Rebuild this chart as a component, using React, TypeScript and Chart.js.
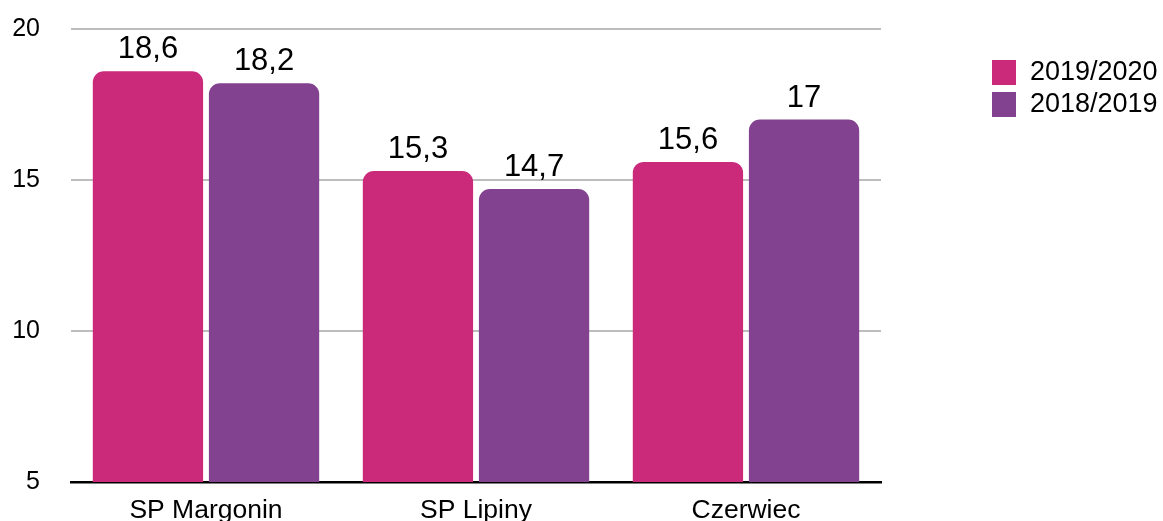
import { useEffect, useRef } from "react";
import { Chart, registerables } from "chart.js";

Chart.register(...registerables);

const categories = ["SP Margonin", "SP Lipiny", "Czerwiec"];
const seriesLabels = ["2019/2020", "2018/2019"];
const values2019_2020 = [18.6, 15.3, 15.6];
const values2018_2019 = [18.2, 14.7, 17];
const seriesColors = ["#CB2A7B", "#83428F"];
const yMin = 5;
const yMax = 20;
const yStep = 5;

const FONT = "'Liberation Sans', Arial, Helvetica, sans-serif";

const fmt = (v: number) => String(v).replace(".", ",");

const dataLabelPlugin = {
  id: "dataLabels",
  afterDatasetsDraw(chart: any) {
    const ctx = chart.ctx;
    ctx.save();
    ctx.font = `31px ${FONT}`;
    ctx.fillStyle = "#000";
    ctx.textAlign = "center";
    ctx.textBaseline = "alphabetic";
    chart.data.datasets.forEach((ds: any, i: number) => {
      const meta = chart.getDatasetMeta(i);
      meta.data.forEach((bar: any, j: number) => {
        ctx.fillText(fmt(ds.data[j]), bar.x, bar.y - 13);
      });
    });
    ctx.restore();
  },
};

const legendPlugin = {
  id: "customLegend",
  afterDraw(chart: any) {
    const ctx = chart.ctx;
    ctx.save();
    ctx.font = `27px ${FONT}`;
    ctx.textBaseline = "middle";
    ctx.textAlign = "left";
    chart.data.datasets.forEach((ds: any, i: number) => {
      const y = 60 + i * 32;
      ctx.fillStyle = ds.backgroundColor;
      ctx.fillRect(992, y, 24, 25);
      ctx.fillStyle = "#000";
      ctx.fillText(ds.label, 1030, y + 13);
    });
    ctx.restore();
  },
};

function BarChart() {
  const ref = useRef<HTMLCanvasElement | null>(null);
  useEffect(() => {
    if (!ref.current) return;
    const chart = new Chart(ref.current, {
      type: "bar",
      data: {
        labels: categories,
        datasets: [
          {
            label: seriesLabels[0],
            data: values2019_2020,
            backgroundColor: seriesColors[0],
            borderRadius: 11,
            borderSkipped: false,
            categoryPercentage: 0.86,
            barPercentage: 0.95,
          },
          {
            label: seriesLabels[1],
            data: values2018_2019,
            backgroundColor: seriesColors[1],
            borderRadius: 11,
            borderSkipped: false,
            categoryPercentage: 0.86,
            barPercentage: 0.95,
          },
        ],
      },
      options: {
        animation: false,
        responsive: false,
        maintainAspectRatio: false,
        devicePixelRatio: 1,
        layout: { padding: { left: 0, right: 282, top: 29, bottom: 0 } },
        plugins: {
          legend: { display: false },
          tooltip: { enabled: false },
        },
        scales: {
          x: {
            grid: { display: false, drawTicks: false },
            border: { display: true, color: "#000", width: 2.5 },
            ticks: {
              color: "#000",
              font: { family: FONT, size: 26.5 },
              padding: 13,
            },
            afterFit(scale: any) {
              scale.height = 39;
            },
          },
          y: {
            min: yMin,
            max: yMax,
            grid: {
              drawTicks: true,
              tickLength: 31,
              tickColor: "rgba(0,0,0,0)",
              color: (c: any) => (c.tick && c.tick.value === yMin ? "rgba(0,0,0,0)" : "#BDBDBD"),
              lineWidth: 2,
            },
            border: { display: false },
            ticks: {
              stepSize: yStep,
              color: "#000",
              font: { family: FONT, size: 25 },
              padding: 0,
            },
            afterFit(scale: any) {
              scale.width = 71;
            },
          },
        },
      },
      plugins: [dataLabelPlugin, legendPlugin],
    });
    return () => chart.destroy();
  }, []);
  return <canvas ref={ref} width={1163} height={521} style={{ display: "block" }} />;
}

export default function App() {
  return (
    <div style={{ position: "fixed", left: 0, top: 0, width: 1163, height: 521, background: "#fff" }}>
      <BarChart />
    </div>
  );
}
